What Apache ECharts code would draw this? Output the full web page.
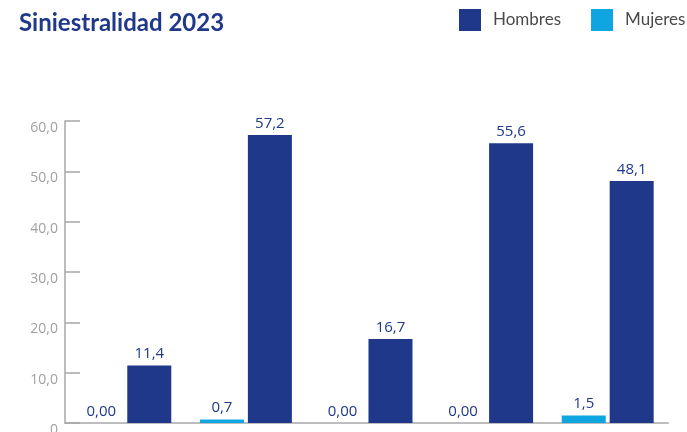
<!DOCTYPE html>
<html>
<head>
<meta charset="utf-8">
<script src="https://cdn.jsdelivr.net/npm/echarts@6/dist/echarts.min.js"></script>
<style>
  html, body { margin: 0; padding: 0; background: #fff; }
  #chart { width: 687px; height: 432px; }
</style>
</head>
<body>
<div id="chart"></div>
<script>
// data
var categories = ['1', '2', '3', '4', '5'];
var mujeres = [0, 0.7, 0, 0, 1.5];
var hombres = [11.4, 57.2, 16.7, 55.6, 48.1];
var yTicks = [0, 10, 20, 30, 40, 50, 60];

var navy = '#1f3889';
var cyan = '#0ea5e0';
var grey = '#a6a6a6';

function fmt(v) {
    return v === 0 ? '0,00' : v.toFixed(1).replace('.', ',');
}

var myChart = echarts.init(document.getElementById('chart'));

option = {
    animation: false,
    title: {
        text: 'Siniestralidad 2023',
        left: 19,
        top: 11,
        padding: 0,
        textStyle: { fontFamily: 'Lato', fontWeight: 'bold', fontSize: 24, color: navy }
    },
    legend: {
        data: ['Hombres', 'Mujeres'],
        left: 459,
        top: 9,
        padding: 0,
        itemWidth: 22,
        itemHeight: 22,
        itemGap: 30,
        icon: 'rect',
        textStyle: { fontFamily: 'Lato', fontSize: 17, color: '#4a4a4a', padding: [0, 0, 0, 7] }
    },
    grid: { left: 65, right: 19, top: 121, bottom: 9, outerBoundsMode: 'none', containLabel: false },
    xAxis: {
        type: 'category',
        data: categories,
        axisLine: { lineStyle: { color: '#bdbdbd', width: 2 } },
        axisTick: { inside: true, length: 10, lineStyle: { color: grey, width: 1.5 } },
        axisLabel: { show: false }
    },
    yAxis: {
        type: 'value',
        min: 0,
        max: yTicks[yTicks.length - 1],
        interval: yTicks[1] - yTicks[0],
        splitLine: { show: false },
        axisLine: { show: true, lineStyle: { color: grey, width: 1.5 } },
        axisTick: { show: true, inside: true, length: 15, lineStyle: { color: grey, width: 1.5 } },
        axisLabel: {
            fontFamily: 'Open Sans',
            fontSize: 14,
            color: '#a0a0a0',
            margin: 7,
            verticalAlign: 'top',
            formatter: function (v) { return v === 0 ? '0' : v.toFixed(1).replace('.', ','); }
        }
    },
    series: [
        {
            name: 'Mujeres',
            type: 'bar',
            data: mujeres,
            barWidth: 44,
            barGap: '9%',
            itemStyle: { color: cyan },
            label: {
                show: true, position: 'top', distance: 4,
                fontFamily: 'Open Sans', fontWeight: 500, fontSize: 15, color: navy,
                formatter: function (p) { return fmt(p.value); }
            }
        },
        {
            name: 'Hombres',
            type: 'bar',
            data: hombres,
            barWidth: 44,
            barGap: '9%',
            itemStyle: { color: navy },
            label: {
                show: true, position: 'top', distance: 4,
                fontFamily: 'Open Sans', fontWeight: 500, fontSize: 15, color: navy,
                formatter: function (p) { return fmt(p.value); }
            }
        }
    ]
};

myChart.setOption(option, true);
</script>
</body>
</html>
